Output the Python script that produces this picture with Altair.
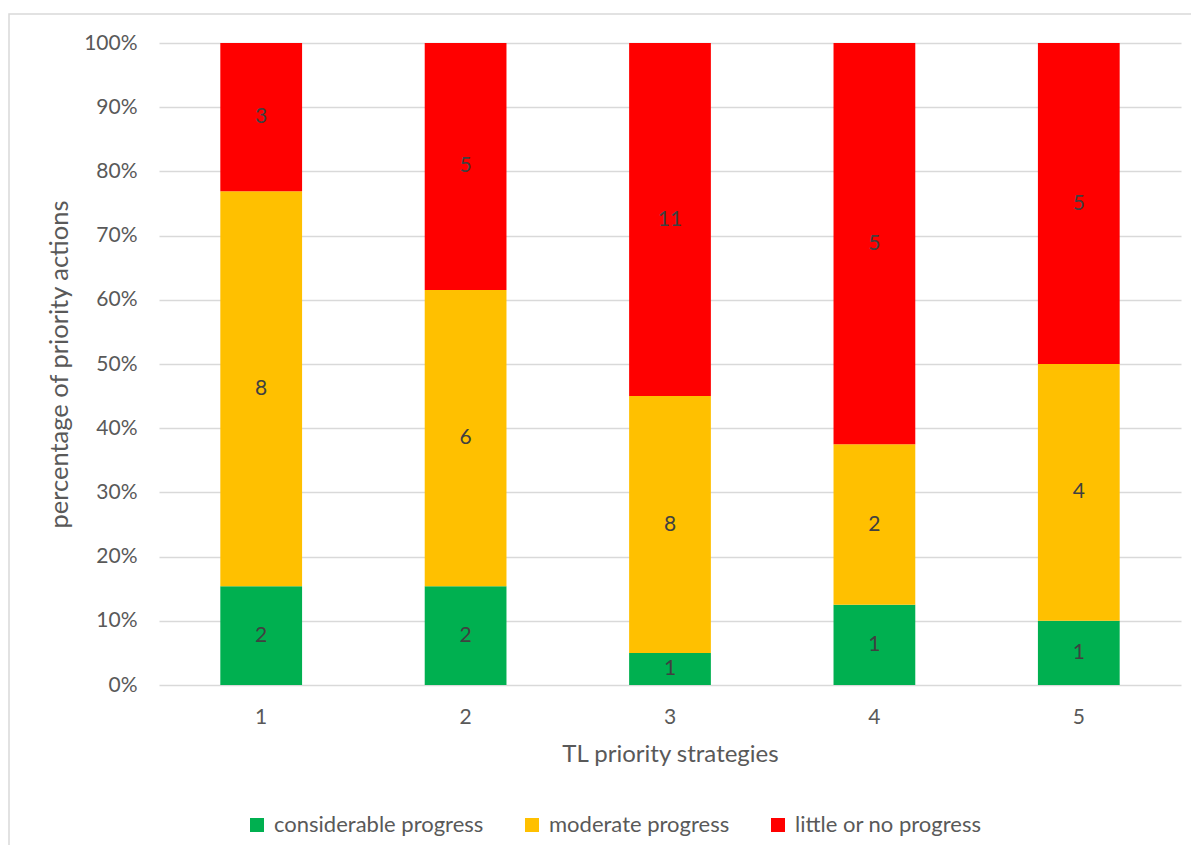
import altair as alt
import pandas as pd

strategies = ["1", "2", "3", "4", "5"]
categories = ["considerable progress", "moderate progress", "little or no progress"]
considerable = [2, 2, 1, 1, 1]
moderate = [8, 6, 8, 2, 4]
little = [3, 5, 11, 5, 5]
colors = ["#00B050", "#FFC000", "#FF0000"]

rows = []
for i, s in enumerate(strategies):
    for k, (cat, vals) in enumerate(zip(categories, [considerable, moderate, little])):
        rows.append({"strategy": s, "category": cat, "count": vals[i], "order": k})
df = pd.DataFrame(rows)

FONT = "Lato"
GRAY = "#595959"

base = alt.Chart(df).transform_stack(
    stack="count",
    as_=["y0", "y1"],
    groupby=["strategy"],
    sort=[alt.SortField("order", order="ascending")],
    offset="normalize",
).transform_calculate(ymid="(datum.y0 + datum.y1) / 2")

xenc = alt.X(
    "strategy:N",
    sort=strategies,
    scale=alt.Scale(paddingInner=0.6, paddingOuter=0.3),
    axis=alt.Axis(
        title="TL priority strategies",
        labelAngle=0,
        labelFontSize=21,
        labelColor=GRAY,
        labelFont=FONT,
        labelPadding=21,
        ticks=False,
        domain=False,
        titleFont=FONT,
        titleFontSize=24,
        titleFontWeight="normal",
        titleColor=GRAY,
        titlePadding=15,
    ),
)

bars = base.mark_bar().encode(
    x=xenc,
    y=alt.Y(
        "y0:Q",
        scale=alt.Scale(domain=[0, 1]),
        axis=alt.Axis(
            title="percentage of priority actions",
            format=".0%",
            values=[i / 10 for i in range(11)],
            labelFontSize=21,
            labelColor=GRAY,
            labelFont=FONT,
            labelPadding=22,
            ticks=False,
            domain=False,
            gridColor="#D9D9D9",
            gridWidth=1.3,
            titleFont=FONT,
            titleFontSize=25.5,
            titleFontWeight="normal",
            titleColor=GRAY,
            titlePadding=11,
        ),
    ),
    y2="y1:Q",
    color=alt.Color(
        "category:N",
        scale=alt.Scale(domain=categories, range=colors),
        legend=alt.Legend(
            title=None,
            orient="none",
            legendX=87,
            legendY=771,
            direction="horizontal",
            symbolType="square",
            symbolSize=196,
            symbolStrokeWidth=0,
            symbolOpacity=1,
            labelFont=FONT,
            labelFontSize=22,
            labelColor=GRAY,
            labelOffset=6,
            labelLimit=400,
            columnPadding=37,
        ),
    ),
)

labels = base.mark_text(font=FONT, fontSize=21, color="#404040", baseline="middle").encode(
    x=alt.X("strategy:N", sort=strategies),
    y="ymid:Q",
    text="count:Q",
)

border = alt.Chart(pd.DataFrame({"a": [0]})).mark_rect(
    fill=None, stroke="#D9D9D9", strokeWidth=1.5
).encode(
    x=alt.value(-150), x2=alt.value(1300), y=alt.value(-29), y2=alt.value(1000)
)

chart = alt.layer(border, bars, labels).properties(
    width=1022,
    height=642,
    autosize=alt.AutoSizeParams(type="none"),
    padding={"left": 151, "top": 35, "right": 10, "bottom": 160},
).configure_view(stroke=None)

chart.save("out.html", embed_options={"renderer": "svg", "actions": False})
